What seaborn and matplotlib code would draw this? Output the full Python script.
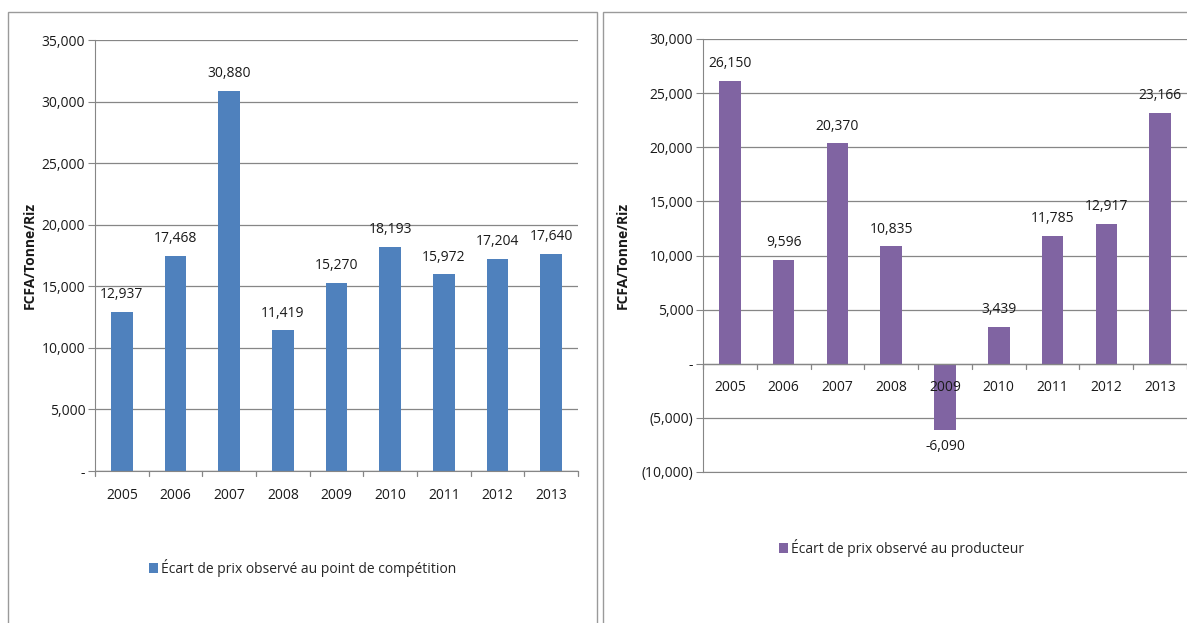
import pandas as pd
import matplotlib
matplotlib.use('Agg')
import matplotlib.pyplot as plt
import matplotlib.transforms as mtransforms
import seaborn as sns
from matplotlib.patches import Rectangle
from matplotlib.ticker import FuncFormatter

# Données
years = ['2005', '2006', '2007', '2008', '2009', '2010', '2011', '2012', '2013']
ecart_competition = [12937, 17468, 30880, 11419, 15270, 18193, 15972, 17204, 17640]
ecart_producteur = [26150, 9596, 20370, 10835, -6090, 3439, 11785, 12917, 23166]
label_competition = 'Écart de prix observé au point de compétition'
label_producteur = 'Écart de prix observé au producteur'
ylabel = 'FCFA/Tonne/Riz'

sns.set_style('white')
plt.rcParams['font.family'] = ['Open Sans', 'DejaVu Sans']

W, H = 1187, 623
fig = plt.figure(figsize=(W / 100, H / 100), dpi=100)

grid_col = '#868686'
text_col = '#1a1a1a'
fs = 10


def fmt_y(v, pos):
    if abs(v) < 1e-9:
        return '-'
    if v < 0:
        return f'({abs(v):,.0f})'
    return f'{v:,.0f}'


def panel(rect_px, axes_px, values, color, label, ymin, ymax, legend_y, ylabel_x):
    # cadre du panneau
    x0, x1, y0, y1 = rect_px
    fig.patches.append(Rectangle((x0 / W, 1 - y1 / H), (x1 - x0) / W, (y1 - y0) / H,
                                 transform=fig.transFigure, fill=False,
                                 edgecolor='#9a9a9a', linewidth=1.0))
    ax0, ax1, ay0, ay1 = axes_px
    ax = fig.add_axes([ax0 / W, 1 - ay1 / H, (ax1 - ax0) / W, (ay1 - ay0) / H])
    df = pd.DataFrame({'annee': years, 'valeur': values})
    sns.barplot(data=df, x='annee', y='valeur', color=color, width=0.4,
                saturation=1, label=label, ax=ax, zorder=3, linewidth=0)
    ax.set_ylim(ymin, ymax)
    ax.set_xlim(-0.5, len(years) - 0.5)
    ax.yaxis.set_major_formatter(FuncFormatter(fmt_y))
    ax.grid(axis='y', color=grid_col, linewidth=0.9, zorder=0)
    ax.grid(axis='x', visible=False)
    for s in ['top', 'right']:
        ax.spines[s].set_visible(False)
    ax.spines['bottom'].set_color(grid_col)
    ax.spines['left'].set_color(grid_col)
    ax.axhline(0, color=grid_col, linewidth=0.9, zorder=4)
    ax.tick_params(axis='y', length=5, color=grid_col, labelsize=fs,
                   labelcolor=text_col, left=True, pad=2)
    # étiquettes des années placées sous la ligne zéro
    ax.set_xticks([])
    ax.set_xlabel('')
    # titre de l'axe y centré sur une position fixe du panneau
    ax.set_ylabel('')
    ax.text(ylabel_x / W, 0.5, ylabel, rotation=90, ha='center', va='center',
            fontsize=fs, fontweight='bold', color=text_col,
            transform=mtransforms.blended_transform_factory(fig.transFigure, ax.transAxes))
    for i in range(len(years) + 1):
        ax.plot([i - 0.5, i - 0.5], [0, -(ymax - ymin) * 0.012], color=grid_col,
                linewidth=0.9, clip_on=False, zorder=4)
    for i, yr in enumerate(years):
        ax.annotate(yr, (i, 0), xytext=(0, -12), textcoords='offset points',
                    ha='center', va='top', fontsize=fs, color=text_col, zorder=5)
    ax.bar_label(ax.containers[0], fmt='{:,.0f}', padding=7, fontsize=fs, color=text_col)
    ax.legend(loc='center', bbox_to_anchor=((x0 + x1) / 2 / W, 1 - legend_y / H),
              bbox_transform=fig.transFigure, frameon=False, fontsize=fs,
              handlelength=0.7, handleheight=0.7, handletextpad=0.2)
    return ax


panel((8, 597, 12, 640), (95, 578, 40, 471), ecart_competition, '#4F81BD',
      label_competition, 0, 35000, 568, 30)
panel((603, 1200, 12, 640), (703, 1187, 39, 472), ecart_producteur, '#8064A2',
      label_producteur, -10000, 30000, 548, 623)

fig.savefig('out.png', dpi=100)
